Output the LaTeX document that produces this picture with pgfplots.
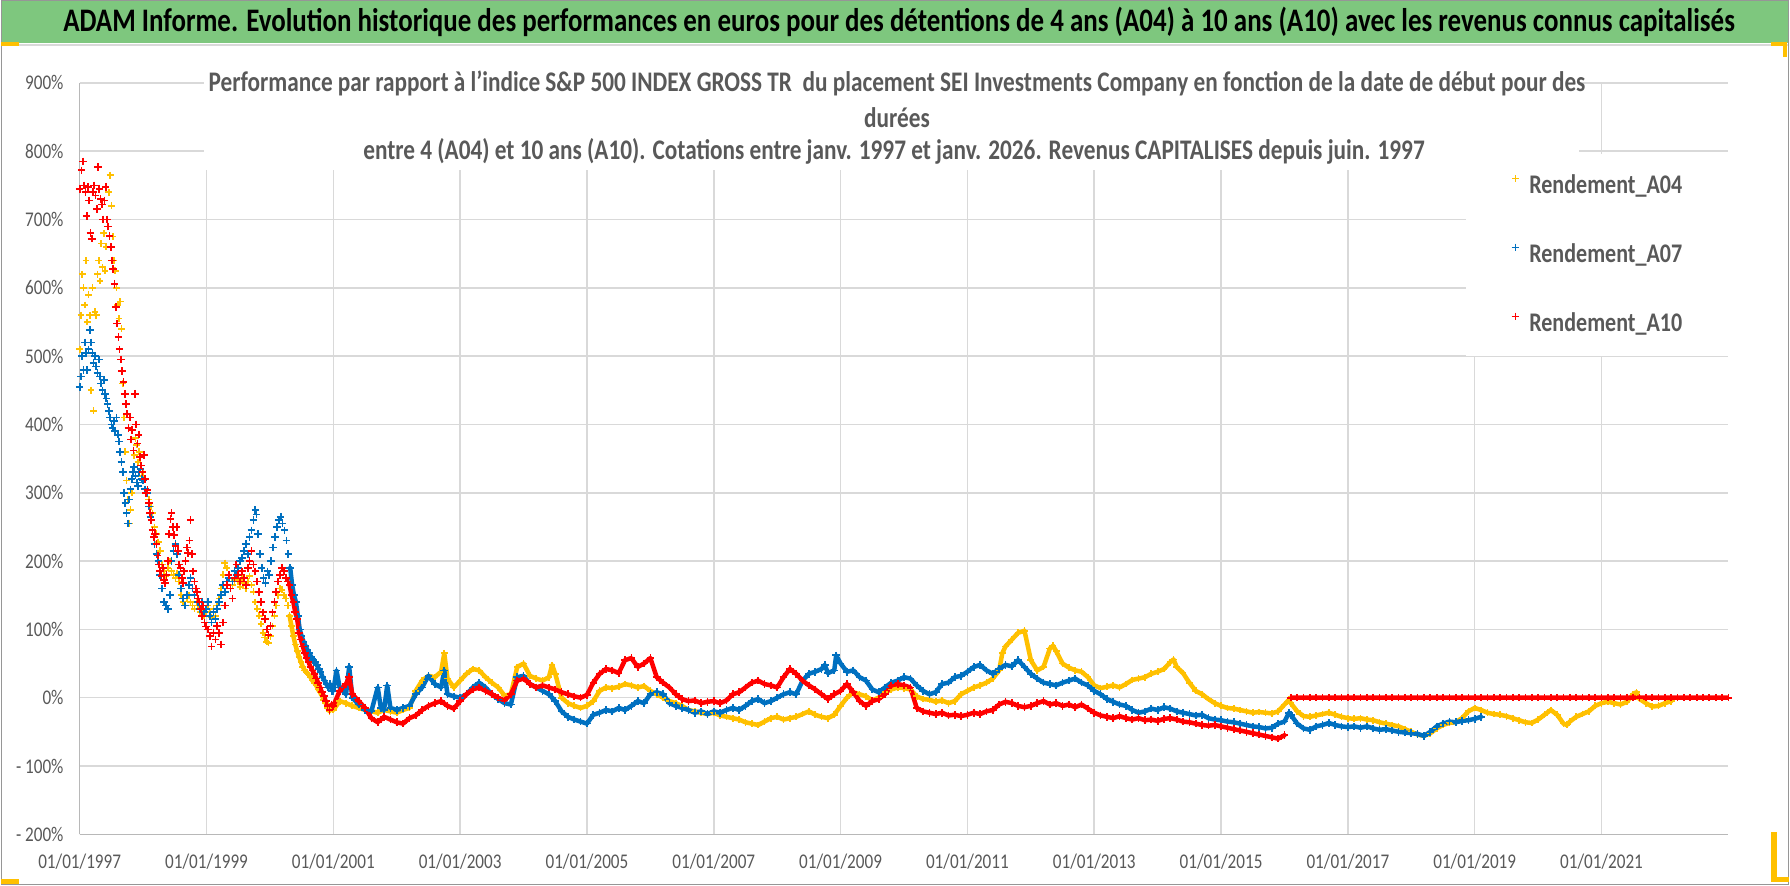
\documentclass[border=0pt]{standalone}
\usepackage{fontspec}
\setmainfont[FakeStretch=0.82]{Carlito}
\usepackage{pgfplots}
\usepackage{pgfplotstable}
\pgfplotsset{compat=1.18}
\definecolor{titlegreen}{RGB}{126,199,126}
\definecolor{txtgray}{RGB}{89,89,89}
\definecolor{gridgray}{RGB}{217,217,217}
\definecolor{framegray}{RGB}{150,150,150}
\definecolor{cA04}{RGB}{255,192,0}
\definecolor{cA07}{RGB}{0,112,192}
\definecolor{cA10}{RGB}{255,0,0}

% performance vs index, by start date (year), in %
\pgfplotstableread{
x y
1997.00 510
1997.02 560
1997.04 620
1997.06 600
1997.08 575
1997.10 640
1997.12 550
1997.14 590
1997.16 560
1997.18 450
1997.20 600
1997.22 420
1997.24 565
1997.26 560
1997.28 620
1997.30 640
1997.32 610
1997.34 665
1997.36 630
1997.38 680
1997.40 625
1997.42 660
1997.44 700
1997.46 740
1997.48 765
1997.50 720
1997.52 675
1997.54 640
1997.56 625
1997.58 600
1997.60 575
1997.62 555
1997.64 580
1997.66 540
1997.68 460
1997.70 410
1997.72 360
1997.74 318
1997.76 290
1997.78 255
1997.80 275
1997.82 300
1997.84 330
1997.86 355
1997.88 380
1997.90 370
1997.92 345
1997.94 360
1997.96 335
1997.98 325
1998.00 330
1998.03 320
1998.06 300
1998.09 290
1998.12 280
1998.15 270
1998.18 250
1998.21 240
1998.24 228
1998.27 215
1998.30 195
1998.33 185
1998.36 178
1998.39 190
1998.42 200
1998.45 185
1998.48 180
1998.51 175
1998.54 182
1998.57 170
1998.60 150
1998.63 140
1998.66 135
1998.69 145
1998.72 150
1998.75 140
1998.78 135
1998.81 130
1998.84 140
1998.87 135
1998.90 125
1998.93 130
1998.96 120
1998.99 125
1999.02 135
1999.05 125
1999.08 118
1999.11 130
1999.14 120
1999.17 135
1999.20 145
1999.23 160
1999.26 180
1999.29 197
1999.32 190
1999.35 175
1999.38 160
1999.41 165
1999.44 172
1999.47 180
1999.50 170
1999.53 162
1999.56 175
1999.59 168
1999.62 160
1999.65 170
1999.68 178
1999.71 165
1999.74 155
1999.77 140
1999.80 130
1999.83 120
1999.86 108
1999.89 95
1999.92 88
1999.95 82
1999.98 80
2000.01 90
2000.04 105
2000.07 120
2000.10 135
2000.13 150
2000.16 160
2000.19 158
2000.22 150
2000.25 145
2000.28 135
2000.31 120
2000.34 105
2000.37 90
2000.40 78
2000.43 68
2000.46 60
2000.49 52
2000.52 45
2000.55 40
2000.58 37
2000.61 34
2000.64 30
2000.67 25
2000.70 22
2000.73 18
2000.76 12
2000.79 8
2000.82 3
2000.85 -3
2000.88 -8
2000.91 -15
2000.94 -20
2000.97 -12
2001.0 -18
2001.1 -5
2001.2 -8
2001.3 -12
2001.4 -15
2001.5 -18
2001.6 -20
2001.7 -22
2001.8 -18
2001.9 -20
2002.0 -22
2002.1 -18
2002.2 -15
2002.3 10
2002.4 25
2002.5 32
2002.6 30
2002.7 38
2002.75 65
2002.8 28
2002.9 15
2003.0 25
2003.1 35
2003.2 42
2003.3 40
2003.4 30
2003.5 22
2003.6 15
2003.7 3
2003.8 5
2003.9 45
2004.0 50
2004.1 32
2004.2 28
2004.3 25
2004.4 30
2004.45 48
2004.5 35
2004.6 0
2004.7 -8
2004.8 -12
2004.9 -15
2005.0 -12
2005.1 -5
2005.2 10
2005.3 15
2005.4 14
2005.5 16
2005.6 20
2005.7 18
2005.8 15
2005.9 17
2006.0 10
2006.1 5
2006.2 0
2006.3 -5
2006.4 -8
2006.5 -12
2006.6 -18
2006.7 -20
2006.8 -22
2006.9 -24
2007.0 -22
2007.1 -26
2007.2 -28
2007.3 -30
2007.4 -32
2007.5 -36
2007.6 -38
2007.7 -40
2007.8 -35
2007.9 -30
2008.0 -28
2008.1 -32
2008.2 -30
2008.3 -28
2008.4 -24
2008.5 -20
2008.6 -25
2008.7 -28
2008.8 -30
2008.9 -25
2009.0 -12
2009.1 0
2009.2 8
2009.3 5
2009.4 2
2009.5 -4
2009.6 0
2009.7 8
2009.8 12
2009.9 15
2010.0 14
2010.1 12
2010.2 2
2010.3 -2
2010.4 -3
2010.5 -6
2010.6 -4
2010.7 -8
2010.8 -5
2010.9 5
2011.0 10
2011.1 15
2011.2 18
2011.3 22
2011.4 28
2011.5 40
2011.55 65
2011.6 75
2011.7 85
2011.8 95
2011.9 98
2012.0 55
2012.1 40
2012.2 45
2012.3 72
2012.35 76
2012.4 68
2012.5 50
2012.6 44
2012.7 40
2012.8 38
2012.9 30
2013.0 18
2013.1 14
2013.2 16
2013.3 18
2013.4 15
2013.5 20
2013.6 26
2013.7 28
2013.8 30
2013.9 35
2014.0 38
2014.1 42
2014.2 52
2014.25 56
2014.3 45
2014.4 36
2014.5 22
2014.6 10
2014.7 5
2014.8 -2
2014.9 -8
2015.0 -12
2015.1 -15
2015.2 -16
2015.3 -18
2015.4 -20
2015.5 -22
2015.6 -21
2015.7 -22
2015.8 -23
2015.9 -20
2016.0 -10
2016.07 -3
2016.1 -8
2016.2 -20
2016.3 -27
2016.4 -28
2016.5 -26
2016.6 -24
2016.7 -22
2016.8 -25
2016.9 -28
2017.0 -30
2017.1 -31
2017.2 -30
2017.3 -32
2017.4 -33
2017.5 -36
2017.6 -38
2017.7 -40
2017.8 -42
2017.9 -46
2018.0 -50
2018.1 -54
2018.2 -56
2018.3 -52
2018.4 -45
2018.5 -40
2018.6 -37
2018.7 -36
2018.8 -30
2018.9 -20
2019.0 -15
2019.1 -18
2019.2 -22
2019.3 -24
2019.4 -25
2019.5 -27
2019.6 -30
2019.7 -33
2019.8 -36
2019.9 -37
2020.0 -32
2020.1 -25
2020.2 -18
2020.3 -25
2020.4 -38
2020.45 -40
2020.5 -35
2020.6 -28
2020.7 -24
2020.8 -20
2020.9 -12
2021.0 -8
2021.1 -6
2021.2 -8
2021.3 -10
2021.4 -6
2021.5 5
2021.55 8
2021.6 -2
2021.7 -8
2021.8 -13
2021.9 -12
2022.0 -8
2022.1 -5
}\tAquatre

\pgfplotstableread{
x y
1997.00 455
1997.02 470
1997.04 500
1997.06 480
1997.08 520
1997.10 505
1997.12 480
1997.14 510
1997.16 538
1997.18 520
1997.20 505
1997.22 490
1997.24 500
1997.26 485
1997.28 475
1997.30 495
1997.32 470
1997.34 460
1997.36 450
1997.38 465
1997.40 445
1997.42 438
1997.44 430
1997.46 420
1997.48 410
1997.50 400
1997.52 395
1997.54 405
1997.56 390
1997.58 410
1997.60 385
1997.62 375
1997.64 360
1997.66 345
1997.68 330
1997.70 300
1997.72 285
1997.74 270
1997.76 255
1997.78 290
1997.80 305
1997.82 320
1997.84 330
1997.86 338
1997.88 325
1997.90 315
1997.92 310
1997.94 330
1997.96 335
1997.98 320
1998.00 318
1998.03 305
1998.06 300
1998.09 280
1998.12 265
1998.15 245
1998.18 225
1998.21 210
1998.24 200
1998.27 180
1998.30 160
1998.33 140
1998.36 135
1998.39 130
1998.42 150
1998.45 200
1998.48 215
1998.51 225
1998.54 210
1998.57 180
1998.60 160
1998.63 145
1998.66 135
1998.69 150
1998.72 165
1998.75 175
1998.78 160
1998.81 150
1998.84 155
1998.87 140
1998.90 130
1998.93 140
1998.96 125
1998.99 130
1999.02 140
1999.05 120
1999.08 110
1999.11 125
1999.14 115
1999.17 130
1999.20 140
1999.23 150
1999.26 165
1999.29 155
1999.32 170
1999.35 175
1999.38 160
1999.41 170
1999.44 185
1999.47 180
1999.50 190
1999.53 200
1999.56 205
1999.59 215
1999.62 225
1999.65 210
1999.68 235
1999.71 245
1999.74 260
1999.77 275
1999.79 268
1999.81 240
1999.84 210
1999.87 190
1999.90 175
1999.93 168
1999.96 185
1999.99 180
2000.02 200
2000.05 220
2000.08 235
2000.11 250
2000.14 260
2000.17 265
2000.20 255
2000.23 245
2000.26 230
2000.29 210
2000.32 190
2000.35 165
2000.38 150
2000.41 140
2000.44 120
2000.47 100
2000.50 90
2000.53 82
2000.56 76
2000.59 70
2000.62 65
2000.65 60
2000.68 55
2000.71 52
2000.74 48
2000.77 42
2000.80 38
2000.83 30
2000.86 25
2000.89 20
2000.92 15
2000.95 20
2000.98 10
2001.0 10
2001.05 40
2001.1 15
2001.2 5
2001.25 45
2001.3 0
2001.4 -10
2001.5 -18
2001.6 -20
2001.7 15
2001.75 -15
2001.8 -18
2001.85 18
2001.9 -15
2002.0 -18
2002.1 -15
2002.2 -12
2002.3 5
2002.4 15
2002.5 32
2002.6 20
2002.7 15
2002.75 40
2002.8 5
2002.9 2
2003.0 0
2003.1 5
2003.2 15
2003.3 22
2003.4 15
2003.5 5
2003.6 -2
2003.7 -8
2003.8 -10
2003.9 30
2004.0 32
2004.1 20
2004.2 15
2004.3 10
2004.4 5
2004.5 -5
2004.6 -20
2004.7 -28
2004.8 -32
2004.9 -35
2005.0 -38
2005.1 -25
2005.2 -22
2005.3 -18
2005.4 -20
2005.5 -15
2005.6 -18
2005.7 -12
2005.8 -5
2005.9 -8
2006.0 5
2006.1 8
2006.2 5
2006.3 -8
2006.4 -12
2006.5 -15
2006.6 -18
2006.7 -22
2006.8 -20
2006.9 -24
2007.0 -20
2007.1 -22
2007.2 -18
2007.3 -15
2007.4 -18
2007.5 -12
2007.6 -5
2007.7 -2
2007.8 -8
2007.9 -5
2008.0 0
2008.1 5
2008.2 8
2008.3 5
2008.4 25
2008.5 35
2008.6 38
2008.7 42
2008.75 48
2008.8 36
2008.9 40
2008.93 62
2009.0 50
2009.1 38
2009.2 40
2009.3 30
2009.4 25
2009.5 12
2009.6 8
2009.7 15
2009.8 22
2009.9 25
2010.0 30
2010.1 28
2010.2 18
2010.3 10
2010.4 5
2010.5 8
2010.6 20
2010.7 22
2010.8 30
2010.9 32
2011.0 38
2011.1 45
2011.2 48
2011.3 40
2011.4 35
2011.5 42
2011.6 48
2011.7 46
2011.8 55
2011.9 45
2012.0 35
2012.1 28
2012.2 22
2012.3 20
2012.4 18
2012.5 22
2012.6 25
2012.7 28
2012.8 22
2012.9 18
2013.0 10
2013.1 5
2013.2 -2
2013.3 -6
2013.4 -10
2013.5 -12
2013.6 -18
2013.7 -22
2013.8 -20
2013.9 -16
2014.0 -18
2014.1 -14
2014.2 -16
2014.3 -20
2014.4 -22
2014.5 -24
2014.6 -26
2014.7 -25
2014.8 -30
2014.9 -32
2015.0 -33
2015.1 -35
2015.2 -36
2015.3 -38
2015.4 -40
2015.5 -42
2015.6 -43
2015.7 -45
2015.8 -44
2015.9 -38
2016.0 -35
2016.07 -22
2016.1 -25
2016.2 -38
2016.3 -45
2016.4 -47
2016.5 -42
2016.6 -40
2016.7 -37
2016.8 -40
2016.9 -42
2017.0 -43
2017.1 -42
2017.2 -44
2017.3 -42
2017.4 -45
2017.5 -47
2017.6 -46
2017.7 -48
2017.8 -50
2017.9 -51
2018.0 -52
2018.1 -53
2018.2 -56
2018.3 -50
2018.4 -42
2018.5 -38
2018.6 -35
2018.7 -36
2018.8 -34
2018.9 -33
2019.0 -31
2019.1 -28
}\tAsept

\pgfplotstableread{
x y
1997.00 745
1997.03 772
1997.05 785
1997.07 750
1997.09 740
1997.11 705
1997.13 748
1997.15 728
1997.17 680
1997.19 672
1997.21 740
1997.23 750
1997.25 735
1997.27 715
1997.29 777
1997.31 745
1997.33 730
1997.35 722
1997.37 700
1997.39 728
1997.41 748
1997.43 700
1997.45 690
1997.47 676
1997.49 660
1997.51 640
1997.53 628
1997.55 606
1997.57 572
1997.59 548
1997.61 528
1997.63 510
1997.65 495
1997.67 478
1997.69 462
1997.71 445
1997.73 430
1997.75 415
1997.77 395
1997.79 410
1997.81 378
1997.83 392
1997.85 362
1997.87 445
1997.89 400
1997.91 372
1997.93 385
1997.95 352
1997.97 340
1997.99 330
1998.01 355
1998.03 320
1998.05 300
1998.07 304
1998.09 285
1998.11 270
1998.13 260
1998.15 245
1998.17 235
1998.19 240
1998.21 225
1998.23 208
1998.25 195
1998.27 185
1998.29 178
1998.31 190
1998.33 172
1998.35 168
1998.37 180
1998.39 200
1998.41 240
1998.43 262
1998.45 270
1998.47 250
1998.49 238
1998.51 222
1998.53 250
1998.55 215
1998.57 195
1998.59 190
1998.61 175
1998.63 168
1998.65 185
1998.67 200
1998.69 220
1998.71 212
1998.73 230
1998.75 260
1998.77 210
1998.79 185
1998.81 170
1998.83 160
1998.85 155
1998.87 145
1998.89 140
1998.91 130
1998.93 120
1998.95 135
1998.97 110
1998.99 104
1999.02 100
1999.05 90
1999.08 75
1999.11 95
1999.14 85
1999.17 105
1999.20 95
1999.23 78
1999.26 110
1999.29 135
1999.32 165
1999.35 180
1999.38 160
1999.41 145
1999.44 175
1999.47 195
1999.50 180
1999.53 170
1999.56 185
1999.59 175
1999.62 165
1999.65 190
1999.68 200
1999.71 215
1999.74 195
1999.77 185
1999.80 170
1999.83 155
1999.86 140
1999.89 125
1999.92 115
1999.95 100
1999.98 92
2000.01 105
2000.04 125
2000.07 140
2000.10 155
2000.13 170
2000.16 180
2000.19 190
2000.22 185
2000.25 175
2000.28 170
2000.31 165
2000.34 150
2000.37 140
2000.40 125
2000.43 115
2000.46 95
2000.49 85
2000.52 75
2000.55 65
2000.58 58
2000.61 52
2000.64 45
2000.67 40
2000.70 35
2000.73 28
2000.76 22
2000.79 15
2000.82 8
2000.85 2
2000.88 -5
2000.91 -12
2000.94 -18
2000.97 -10
2001.0 -12
2001.1 10
2001.2 20
2001.25 30
2001.3 5
2001.4 -5
2001.5 -15
2001.6 -30
2001.7 -36
2001.8 -28
2001.9 -32
2002.0 -36
2002.1 -38
2002.2 -30
2002.3 -26
2002.4 -18
2002.5 -12
2002.6 -8
2002.7 -5
2002.8 -12
2002.9 -16
2003.0 -5
2003.1 5
2003.2 12
2003.3 15
2003.4 10
2003.5 5
2003.6 0
2003.7 -4
2003.8 5
2003.9 25
2004.0 28
2004.1 20
2004.2 15
2004.3 18
2004.4 15
2004.5 12
2004.6 8
2004.7 5
2004.8 2
2004.9 0
2005.0 4
2005.1 22
2005.2 35
2005.3 42
2005.4 40
2005.5 36
2005.6 55
2005.7 58
2005.8 45
2005.9 50
2006.0 58
2006.1 30
2006.2 22
2006.3 15
2006.4 5
2006.5 -2
2006.6 -5
2006.7 -4
2006.8 -8
2006.9 -6
2007.0 -5
2007.1 -8
2007.2 -4
2007.3 5
2007.4 8
2007.5 15
2007.6 22
2007.7 25
2007.8 20
2007.9 18
2008.0 15
2008.1 30
2008.2 42
2008.3 35
2008.4 25
2008.5 18
2008.6 12
2008.7 5
2008.8 -2
2008.9 5
2009.0 10
2009.1 20
2009.2 8
2009.3 -5
2009.4 -12
2009.5 -5
2009.6 -2
2009.7 5
2009.8 18
2009.9 20
2010.0 18
2010.1 15
2010.2 -15
2010.3 -20
2010.4 -22
2010.5 -24
2010.6 -22
2010.7 -26
2010.8 -25
2010.9 -27
2011.0 -25
2011.1 -22
2011.2 -24
2011.3 -20
2011.4 -18
2011.5 -10
2011.6 -6
2011.7 -8
2011.8 -12
2011.9 -14
2012.0 -12
2012.1 -8
2012.2 -5
2012.3 -10
2012.4 -8
2012.5 -12
2012.6 -10
2012.7 -14
2012.8 -10
2012.9 -16
2013.0 -22
2013.1 -26
2013.2 -28
2013.3 -30
2013.4 -27
2013.5 -30
2013.6 -32
2013.7 -30
2013.8 -33
2013.9 -32
2014.0 -34
2014.1 -31
2014.2 -30
2014.3 -32
2014.4 -35
2014.5 -36
2014.6 -38
2014.7 -40
2014.8 -41
2014.9 -40
2015.0 -42
2015.1 -44
2015.2 -46
2015.3 -48
2015.4 -50
2015.5 -52
2015.6 -54
2015.7 -56
2015.8 -58
2015.9 -60
2016.0 -55
2016.05 nan
2016.1 0
2016.2 0
2016.3 0
2016.4 0
2016.5 0
2016.6 0
2016.7 0
2016.8 0
2016.9 0
2017.0 0
2017.1 0
2017.2 0
2017.3 0
2017.4 0
2017.5 0
2017.6 0
2017.7 0
2017.8 0
2017.9 0
2018.0 0
2018.1 0
2018.2 0
2018.3 0
2018.4 0
2018.5 0
2018.6 0
2018.7 0
2018.8 0
2018.9 0
2019.0 0
2019.1 0
2019.2 0
2019.3 0
2019.4 0
2019.5 0
2019.6 0
2019.7 0
2019.8 0
2019.9 0
2020.0 0
2020.1 0
2020.2 0
2020.3 0
2020.4 0
2020.5 0
2020.6 0
2020.7 0
2020.8 0
2020.9 0
2021.0 0
2021.1 0
2021.2 0
2021.3 0
2021.4 0
2021.5 0
2021.6 0
2021.7 0
2021.8 0
2021.9 0
2022.0 0
2022.1 0
2022.2 0
2022.3 0
2022.4 0
2022.5 0
2022.6 0
2022.7 0
2022.8 0
2022.9 0
2023.0 0
}\tAdix

\begin{document}
\begin{tikzpicture}[x=1bp,y=1bp]
% page, title bar and frame
\fill[white] (0,0) rectangle (1790,886);
\fill[titlegreen] (0,843) rectangle (1790,886);
\draw[gridgray, line width=1.5] (0,841) -- (1790,841);
\draw[framegray, line width=1.2] (0.6,0.6) rectangle (1789.4,885.4);
\fill[cA04] (0,840) rectangle (18,844);
\fill[cA04] (1772,840) rectangle (1788,844);
\fill[cA04] (1784,829) rectangle (1788,844);
\fill[cA04] (1772,3) rectangle (1790,8);
\fill[cA04] (1772,3) rectangle (1778,53);
\fill[cA04] (0,1) rectangle (18,6);
\node[font=\fontsize{33}{33}\selectfont\bfseries, text=black] at (899,864)
  {ADAM Informe. Evolution historique des performances en euros pour des détentions de 4 ans (A04) à 10 ans (A10) avec les revenus connus capitalisés};

\begin{axis}[
  at={(79bp,51bp)}, anchor=south west,
  scale only axis, width=1650bp, height=752bp,
  xmin=1997, xmax=2023, ymin=-200, ymax=900,
  axis x line*=bottom, axis y line*=left,
  axis line style={draw=gridgray!85!black, line width=1.5bp},
  grid=major,
  major grid style={draw=gridgray, line width=1.5bp},
  tick style={draw=none},
  xtick={1997,1999,...,2021},
  xticklabels={01/01/1997,01/01/1999,01/01/2001,01/01/2003,01/01/2005,01/01/2007,01/01/2009,01/01/2011,01/01/2013,01/01/2015,01/01/2017,01/01/2019,01/01/2021},
  ytick={-200,-100,...,900},
  yticklabels={- 200\%,- 100\%,0\%,100\%,200\%,300\%,400\%,500\%,600\%,700\%,800\%,900\%},
  tick label style={font=\fontsize{21}{21}\selectfont, text=txtgray},
  xticklabel style={anchor=center, yshift=-27bp},
  yticklabel style={anchor=east, inner sep=0pt, xshift=-16bp},
  unbounded coords=jump,
  pts/.style={only marks, mark=+, mark size=3.8bp, mark options={line width=1.7bp}},
  band/.style={sharp plot, no marks, line width=4.5bp, line join=round, line cap=round,
    restrict x to domain=2000.3:2023, forget plot},
  legend image code/.code={\draw[#1] plot coordinates {(0bp,8bp)};},
  legend cell align=left,
  legend style={at={(rel axis cs:1,0.905)}, anchor=north east, draw=none, fill=white,
    font=\fontsize{27}{27}\selectfont\bfseries, text=txtgray,
    inner xsep=46bp, inner ysep=20bp, row sep=45bp,
    nodes={inner sep=0pt, text height=19bp, text depth=5bp},
    /tikz/every odd column/.append style={column sep=10bp}},
]
\addplot[cA04, band] table {\tAquatre};
\addplot[cA04, pts, mark size=3.4bp] table {\tAquatre};
\addlegendentry{Rendement\_A04}
\addplot[cA07, band] table {\tAsept};
\addplot[cA07, pts] table {\tAsept};
\addlegendentry{Rendement\_A07}
\addplot[cA10, band] table {\tAdix};
\addplot[cA10, pts] table {\tAdix};
\addlegendentry{Rendement\_A10}
\end{axis}

% chart title box (white, hides the grid behind it)
\fill[white] (203,716) rectangle (1580,826);
\begin{scope}[every node/.style={font=\fontsize{28.5}{28.5}\selectfont\bfseries, text=txtgray}]
\node at (897,803) {Performance par rapport à l'indice S\&P 500 INDEX GROSS TR\ \ du placement SEI Investments Company en fonction de la date de début pour des};
\node at (897,768) {durées};
\node at (894,734) {entre 4 (A04) et 10 ans (A10). Cotations entre janv. 1997 et janv. 2026. Revenus CAPITALISES depuis juin. 1997};
\end{scope}
\end{tikzpicture}
\end{document}
